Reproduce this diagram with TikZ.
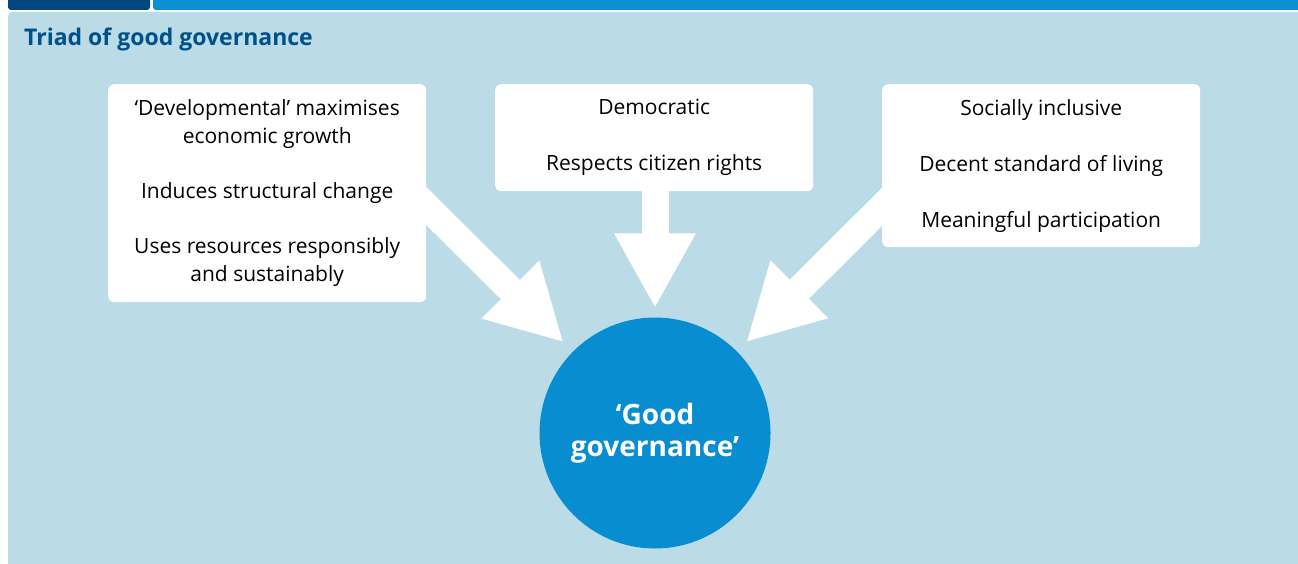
\documentclass[tikz,border=0pt]{standalone}
\usepackage{fontspec}
\setmainfont{Open Sans}
\usetikzlibrary{arrows.meta, backgrounds, positioning}
\definecolor{panelblue}{HTML}{BBDBE7}
\definecolor{barblue}{HTML}{0A8FD1}
\definecolor{tabblue}{HTML}{00477F}
\definecolor{titleblue}{HTML}{00508A}
\definecolor{ggblue}{HTML}{078DD0}

\begin{document}
\begin{tikzpicture}[x=1pt, y=-1pt]
            \tikzstyle{box}=[fill=white, rounded corners=6pt, minimum width=318pt, anchor=north west, align=center, inner sep=0pt, font=\fontsize{21}{28}\selectfont]
            \tikzstyle{bigarrow}=[white, line width=27pt, -{Triangle[width=76pt, length=75pt]}]
            \useasboundingbox (0,0) rectangle (1298,564);
            \node[anchor=west, inner sep=0pt, text=titleblue, font=\bfseries\fontsize{23}{28}\selectfont] (title) at (24,39) {Triad of good governance};
            \node[box, minimum height=218pt] (dev) at (108,84) {‘Developmental’ maximises\\economic growth\\[27pt]Induces structural change\\[27pt]Uses resources responsibly\\and sustainably};
            \node[box, minimum height=107pt] (demo) at (495,84) {Democratic\\[28pt]Respects citizen rights};
            \node[box, minimum height=163pt] (incl) at (882,84) {Socially inclusive\\[28pt]Decent standard of living\\[28pt]Meaningful participation};
            \node[circle, fill=ggblue, minimum size=231pt, inner sep=0pt, align=center, text=white, font=\bfseries\fontsize{28}{32}\selectfont] (gg) at (655,433) {‘Good\\governance’};
            \begin{scope}[on background layer]
                \fill[tabblue, rounded corners=3pt] (8,-6) rectangle (150,10);
                \fill[barblue, rounded corners=3pt] (153,-6) rectangle (1310,10);
                \fill[panelblue, rounded corners=4pt] (8,12) rectangle (1310,575);
                \coordinate (devfoot) at (400,180);
                \coordinate (demofoot) at (655,180);
                \coordinate (inclfoot) at (909,180);
                \draw[bigarrow, shorten >=13pt] (devfoot) -- (gg);
                \draw[bigarrow, shorten >=9pt] (demofoot) -- (gg);
                \draw[bigarrow, shorten >=13pt] (inclfoot) -- (gg);
            \end{scope}
\end{tikzpicture}
\end{document}
